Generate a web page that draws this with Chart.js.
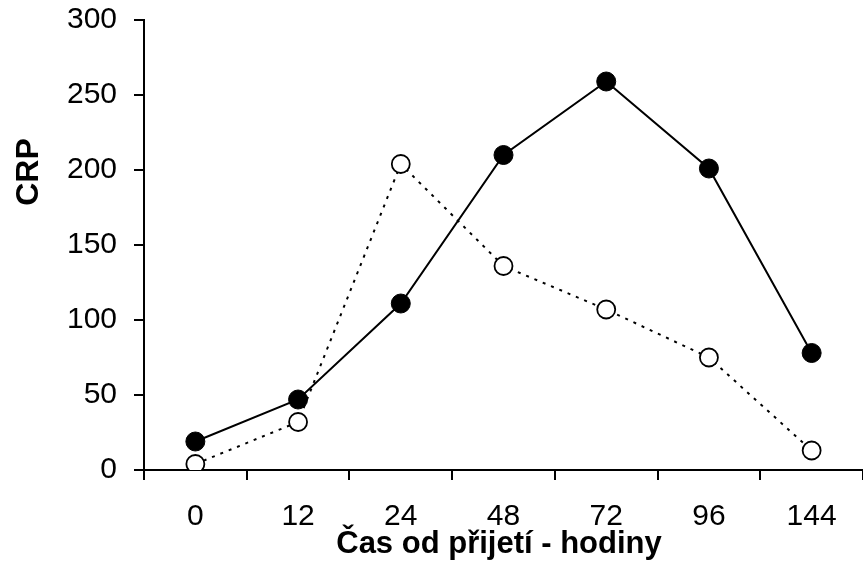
<!DOCTYPE html>
<html>
<head>
<meta charset="utf-8">
<script src="https://cdn.jsdelivr.net/npm/chart.js@4"></script>
<style>
html,body{margin:0;padding:0;background:#fff;}
#wrap{width:863px;height:562px;}
</style>
</head>
<body>
<div id="wrap"><canvas id="c" width="863" height="562"></canvas></div>
<script>
const categories = ['0', '12', '24', '48', '72', '96', '144'];
const filledSeries = [19, 47, 111, 210, 259, 201, 78];
const openSeries = [4, 32, 204, 136, 107, 75, 13];
const yTicks = [0, 50, 100, 150, 200, 250, 300];
const xTitle = 'Čas od přijetí - hodiny';
const yTitle = 'CRP';

const FONT = '"Liberation Sans", Arial, sans-serif';

const titlesPlugin = {
  id: 'titles',
  afterDraw(chart) {
    const ctx = chart.ctx;
    ctx.save();
    ctx.fillStyle = '#000';
    ctx.font = 'bold 31px ' + FONT;
    ctx.textAlign = 'center';
    ctx.textBaseline = 'alphabetic';
    ctx.fillText(xTitle, 499, 553);
    ctx.font = 'bold 32px ' + FONT;
    ctx.translate(38, 172);
    ctx.rotate(-Math.PI / 2);
    ctx.fillText(yTitle, 0, 0);
    ctx.restore();
  }
};

function zeroPad(scale) {
  scale.paddingLeft = 0; scale.paddingRight = 0; scale.paddingTop = 0; scale.paddingBottom = 0;
}

new Chart(document.getElementById('c'), {
  type: 'line',
  data: {
    labels: categories,
    datasets: [
      {
        data: openSeries,
        borderColor: '#000',
        borderWidth: 2,
        borderDash: [3, 6],
        pointRadius: 9,
        pointHoverRadius: 9,
        pointBackgroundColor: '#fff',
        pointBorderColor: '#000',
        pointBorderWidth: 1.8,
        tension: 0,
        fill: false
      },
      {
        data: filledSeries,
        borderColor: '#000',
        borderWidth: 2,
        pointRadius: 9.5,
        pointHoverRadius: 9.5,
        pointBackgroundColor: '#000',
        pointBorderColor: '#000',
        pointBorderWidth: 1,
        tension: 0,
        fill: false
      }
    ]
  },
  options: {
    responsive: false,
    animation: false,
    devicePixelRatio: 1,
    layout: { autoPadding: false, padding: { top: 20, right: 0, left: 0, bottom: 0 } },
    plugins: { legend: { display: false }, tooltip: { enabled: false }, title: { display: false } },
    scales: {
      x: {
        type: 'category',
        offset: true,
        grid: { offset: true, drawOnChartArea: false, drawTicks: true, tickLength: 10, color: '#000', lineWidth: 2 },
        border: { display: true, color: '#000', width: 2 },
        ticks: { color: '#000', font: { family: FONT, size: 30 }, padding: 19, maxRotation: 0, autoSkip: false },
        afterFit(scale) { scale.height = 92; zeroPad(scale); }
      },
      y: {
        min: 0,
        max: 300,
        afterBuildTicks(scale) { scale.ticks = yTicks.map(v => ({ value: v })); },
        grid: { drawOnChartArea: false, drawTicks: true, tickLength: 10, color: '#000', lineWidth: 2 },
        border: { display: true, color: '#000', width: 2 },
        ticks: { color: '#000', font: { family: FONT, size: 30 }, padding: 17 },
        afterFit(scale) { scale.width = 144; zeroPad(scale); }
      }
    }
  },
  plugins: [titlesPlugin]
});
</script>
</body>
</html>
